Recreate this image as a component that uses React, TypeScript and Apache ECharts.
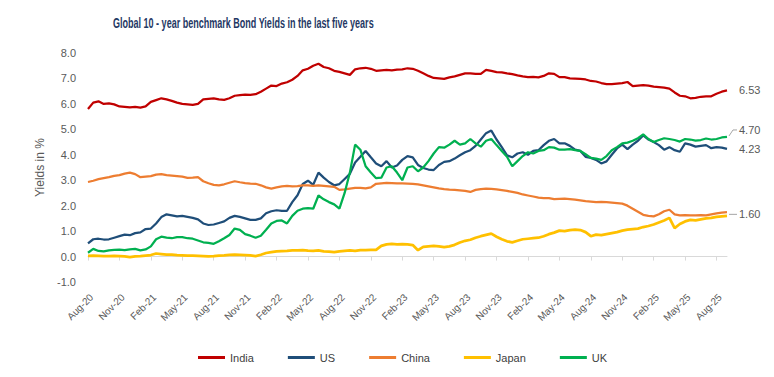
import React, { useEffect, useRef } from "react";
import * as echarts from "echarts";

const titleText = "Global 10 - year benchmark Bond Yields in the last five years";
const yAxisName = "Yields in %";

// Quarterly tick labels (every 6th half-month category)
const tickLabels = [
  "Aug-20", "Nov-20", "Feb-21", "May-21", "Aug-21", "Nov-21", "Feb-22",
  "May-22", "Aug-22", "Nov-22", "Feb-23", "May-23", "Aug-23", "Nov-23",
  "Feb-24", "May-24", "Aug-24", "Nov-24", "Feb-25", "May-25", "Aug-25",
];

// Half-monthly categories from 2020-08-01 to 2025-09-01
const categories: string[] = [];
for (let k = 0; k <= 61; k++) {
  const y = 2020 + Math.floor((7 + k) / 12);
  const m = String(((7 + k) % 12) + 1).padStart(2, "0");
  categories.push(`${y}-${m}-01`);
  if (k < 61) categories.push(`${y}-${m}-15`);
}

const india = [
  5.80, 6.05, 6.10, 6.00, 6.02, 5.98, 5.90, 5.88, 5.86, 5.88,
  5.85, 5.90, 6.08, 6.15, 6.22, 6.18, 6.12, 6.05, 6.00, 5.98,
  5.96, 6.00, 6.18, 6.20, 6.22, 6.18, 6.16, 6.22, 6.32, 6.34,
  6.36, 6.35, 6.38, 6.48, 6.60, 6.72, 6.70, 6.80, 6.85, 6.95,
  7.10, 7.32, 7.38, 7.50, 7.58, 7.45, 7.40, 7.30, 7.26, 7.20,
  7.14, 7.36, 7.40, 7.42, 7.38, 7.30, 7.32, 7.34, 7.32, 7.35,
  7.36, 7.40, 7.38, 7.30, 7.20, 7.10, 7.02, 7.00, 6.98, 7.04,
  7.08, 7.14, 7.20, 7.20, 7.18, 7.18, 7.34, 7.30, 7.25, 7.24,
  7.20, 7.17, 7.12, 7.08, 7.05, 7.06, 7.04, 7.10, 7.20, 7.18,
  7.05, 7.05, 7.00, 6.99, 6.98, 6.96, 6.90, 6.88, 6.82, 6.78,
  6.78, 6.80, 6.82, 6.86, 6.70, 6.72, 6.74, 6.72, 6.68, 6.66,
  6.64, 6.60, 6.45, 6.32, 6.30, 6.22, 6.24, 6.28, 6.30, 6.30,
  6.40, 6.48, 6.53,
];

const us = [
  0.52, 0.68, 0.70, 0.67, 0.68, 0.74, 0.80, 0.86, 0.84, 0.92,
  0.95, 1.08, 1.10, 1.30, 1.55, 1.66, 1.62, 1.58, 1.60, 1.56,
  1.52, 1.46, 1.30, 1.24, 1.26, 1.32, 1.38, 1.52, 1.60, 1.56,
  1.50, 1.44, 1.44, 1.50, 1.70, 1.78, 1.82, 1.80, 1.80, 2.14,
  2.41, 2.85, 2.98, 2.82, 3.30, 3.10, 2.93, 2.80, 2.85, 3.05,
  3.25, 3.70, 3.92, 4.15, 3.90, 3.66, 3.55, 3.75, 3.50, 3.58,
  3.80, 3.95, 3.90, 3.60, 3.48, 3.42, 3.40, 3.60, 3.72, 3.75,
  3.85, 3.98, 4.10, 4.18, 4.35, 4.60, 4.85, 4.95, 4.60, 4.30,
  3.98, 3.90, 4.05, 4.10, 4.00, 4.15, 4.18, 4.38, 4.55, 4.62,
  4.45, 4.45, 4.35, 4.20, 4.15, 3.92, 3.88, 3.80, 3.66, 3.74,
  4.00, 4.25, 4.40, 4.22, 4.40, 4.55, 4.76, 4.60, 4.50, 4.38,
  4.20, 4.30, 4.18, 4.12, 4.45, 4.40, 4.32, 4.35, 4.38, 4.26,
  4.30, 4.28, 4.23,
];

const china = [
  2.93, 2.98, 3.04, 3.08, 3.12, 3.17, 3.20, 3.26, 3.30, 3.24,
  3.12, 3.14, 3.16, 3.22, 3.24, 3.20, 3.18, 3.16, 3.14, 3.09,
  3.10, 3.12, 2.96, 2.88, 2.82, 2.80, 2.84, 2.90, 2.96, 2.92,
  2.89, 2.87, 2.86, 2.80, 2.72, 2.67, 2.72, 2.76, 2.78, 2.76,
  2.77, 2.80, 2.80, 2.78, 2.80, 2.78, 2.76, 2.74, 2.62, 2.64,
  2.67, 2.70, 2.70, 2.68, 2.72, 2.86, 2.88, 2.90, 2.89, 2.88,
  2.88, 2.87, 2.86, 2.84, 2.80, 2.76, 2.72, 2.68, 2.65, 2.63,
  2.62, 2.60, 2.58, 2.54, 2.62, 2.65, 2.67, 2.66, 2.64, 2.61,
  2.58, 2.54, 2.50, 2.44, 2.40, 2.36, 2.32, 2.30, 2.30, 2.26,
  2.27, 2.28, 2.26, 2.24, 2.21, 2.18, 2.16, 2.14, 2.15, 2.14,
  2.12, 2.10, 2.08, 2.00, 1.88, 1.76, 1.64, 1.60, 1.58, 1.66,
  1.78, 1.84, 1.66, 1.62, 1.63, 1.62, 1.62, 1.63, 1.62, 1.66,
  1.70, 1.73, 1.75,
];

const japan = [
  0.03, 0.04, 0.03, 0.02, 0.02, 0.03, 0.02, 0.01, -0.02, 0.01,
  0.02, 0.04, 0.06, 0.12, 0.10, 0.08, 0.08, 0.06, 0.05, 0.04,
  0.04, 0.03, 0.02, 0.01, 0.02, 0.04, 0.05, 0.07, 0.08, 0.07,
  0.06, 0.05, 0.02, 0.07, 0.14, 0.17, 0.20, 0.21, 0.22, 0.24,
  0.24, 0.25, 0.23, 0.22, 0.24, 0.20, 0.19, 0.17, 0.20, 0.22,
  0.24, 0.22, 0.25, 0.25, 0.26, 0.26, 0.42, 0.48, 0.50, 0.48,
  0.49, 0.48, 0.45, 0.25, 0.38, 0.40, 0.42, 0.40, 0.37, 0.40,
  0.46, 0.55, 0.62, 0.66, 0.74, 0.80, 0.85, 0.90, 0.78, 0.68,
  0.60, 0.56, 0.62, 0.68, 0.70, 0.72, 0.74, 0.80, 0.88, 0.94,
  1.02, 1.00, 1.04, 1.06, 1.04, 0.96, 0.80, 0.86, 0.84, 0.88,
  0.92, 0.96, 1.02, 1.06, 1.08, 1.10, 1.16, 1.20, 1.26, 1.34,
  1.42, 1.52, 1.12, 1.28, 1.38, 1.44, 1.42, 1.46, 1.50, 1.52,
  1.56, 1.58, 1.60,
];

const uk = [
  0.15, 0.30, 0.22, 0.20, 0.24, 0.26, 0.27, 0.25, 0.28, 0.30,
  0.24, 0.28, 0.40, 0.68, 0.78, 0.74, 0.72, 0.76, 0.76, 0.72,
  0.70, 0.63, 0.56, 0.54, 0.50, 0.60, 0.72, 0.85, 1.10, 1.05,
  0.88, 0.82, 0.74, 0.82, 1.05, 1.30, 1.40, 1.42, 1.30, 1.60,
  1.80, 1.88, 1.90, 1.88, 2.40, 2.25, 2.14, 2.05, 1.88, 2.50,
  3.30, 4.40, 4.20, 3.55, 3.30, 3.08, 3.10, 3.50, 3.55, 3.30,
  3.00, 3.50, 3.55, 3.35, 3.50, 3.75, 4.05, 4.30, 4.28, 4.40,
  4.55, 4.40, 4.45, 4.62, 4.45, 4.32, 4.55, 4.62, 4.38, 4.15,
  3.92, 3.55, 3.75, 3.95, 4.10, 4.05, 4.15, 4.18, 4.30, 4.28,
  4.20, 4.20, 4.22, 4.18, 4.15, 4.02, 3.88, 3.85, 3.80, 3.95,
  4.18, 4.30, 4.45, 4.48, 4.55, 4.65, 4.80, 4.62, 4.50, 4.58,
  4.65, 4.62, 4.58, 4.52, 4.62, 4.60, 4.56, 4.58, 4.64, 4.60,
  4.62, 4.68, 4.70,
];

const FONT = "Liberation Sans";
const GRAY = "#595959";

type SeriesDef = {
  name: string;
  data: number[];
  color: string;
  width: number;
  endLabel: boolean;
  labelDy: number;
};

const seriesDefs: SeriesDef[] = [
  { name: "India", data: india, color: "#C00000", width: 2.25, endLabel: true, labelDy: 0 },
  { name: "US", data: us, color: "#1F4E79", width: 2.25, endLabel: true, labelDy: 0 },
  { name: "China", data: china, color: "#ED7D31", width: 2.25, endLabel: false, labelDy: 0 },
  { name: "Japan", data: japan, color: "#FFC000", width: 2.75, endLabel: true, labelDy: -1.5 },
  { name: "UK", data: uk, color: "#00B050", width: 2.25, endLabel: true, labelDy: -7 },
];

export default function App() {
  const ref = useRef<HTMLDivElement | null>(null);

  useEffect(() => {
    document.body.style.margin = "0";
    if (!ref.current) return;
    const chart = echarts.init(ref.current, undefined, { renderer: "svg" });

    const option: any = {
      animation: false,
      textStyle: { fontFamily: FONT },
      grid: { left: 88, right: 47, top: 53, bottom: 95, containLabel: false },
      legend: {
        data: seriesDefs.map((s) => s.name),
        left: 193,
        top: 347,
        icon: "rect",
        itemWidth: 27,
        itemHeight: 3,
        itemGap: 34,
        textStyle: { color: "#404040", fontSize: 11, fontFamily: FONT },
      },
      xAxis: [
        {
          type: "category",
          data: categories,
          boundaryGap: false,
          position: "bottom",
          axisLine: { show: false, onZero: false },
          axisTick: { show: false },
          splitLine: { show: false },
          axisLabel: {
            interval: 5,
            rotate: 45,
            margin: 10,
            color: GRAY,
            fontSize: 10,
            fontFamily: FONT,
            verticalAlign: "top",
            formatter: (_v: string, idx: number) => tickLabels[idx / 6] ?? "",
          },
        },
        {
          type: "category",
          data: categories,
          boundaryGap: false,
          position: "bottom",
          axisLine: { show: true, onZero: true, lineStyle: { color: "#D9D9D9", width: 1 } },
          axisTick: { show: true, interval: 5, length: 4, lineStyle: { color: "#D9D9D9" } },
          axisLabel: { show: false },
          splitLine: { show: false },
        },
      ],
      yAxis: {
        type: "value",
        min: -1,
        max: 8,
        interval: 1,
        name: yAxisName,
        nameLocation: "middle",
        nameGap: 28,
        nameTextStyle: { color: GRAY, fontSize: 12, fontFamily: FONT },
        axisLine: { show: false },
        axisTick: { show: false },
        splitLine: { show: false },
        axisLabel: {
          color: GRAY,
          fontSize: 11,
          margin: 12,
          fontFamily: FONT,
          formatter: (v: number) => v.toFixed(1),
        },
      },
      series: seriesDefs.map((s) => ({
        name: s.name,
        type: "line",
        xAxisIndex: 0,
        yAxisIndex: 0,
        data: s.data,
        showSymbol: false,
        symbol: "none",
        color: s.color,
        lineStyle: { color: s.color, width: s.width },
        emphasis: { disabled: true },
        endLabel: {
          show: s.endLabel,
          formatter: () => s.data[s.data.length - 1].toFixed(2),
          distance: 12,
          offset: [0, s.labelDy],
          color: GRAY,
          fontSize: 11,
          fontFamily: FONT,
        },
      })),
    };

    chart.setOption(option);

    const last = categories.length - 1;
    const pUK = chart.convertToPixel({ xAxisIndex: 0, yAxisIndex: 0 }, [last, uk[last]]) as number[];
    const pJP = chart.convertToPixel({ xAxisIndex: 0, yAxisIndex: 0 }, [last, japan[last]]) as number[];

    chart.setOption({
      graphic: [
        {
          type: "text",
          x: 113,
          y: 23,
          scaleX: 0.645,
          style: {
            text: titleText,
            font: `bold 14px "${FONT}"`,
            fill: "#1F3864",
            align: "left",
            verticalAlign: "middle",
          },
        },
        {
          type: "polyline",
          shape: {
            points: [
              [pUK[0] + 2, pUK[1] - 1],
              [pUK[0] + 6, pUK[1] - 7],
              [pUK[0] + 10, pUK[1] - 7],
            ],
          },
          style: { stroke: "#A6A6A6", lineWidth: 1, fill: "none" },
        },
        {
          type: "polyline",
          shape: {
            points: [
              [pJP[0] + 2, pJP[1] - 1.5],
              [pJP[0] + 10, pJP[1] - 1.5],
            ],
          },
          style: { stroke: "#A6A6A6", lineWidth: 1, fill: "none" },
        },
      ],
    });

    return () => {
      chart.dispose();
    };
  }, []);

  return <div ref={ref} style={{ width: 774, height: 377 }} />;
}
